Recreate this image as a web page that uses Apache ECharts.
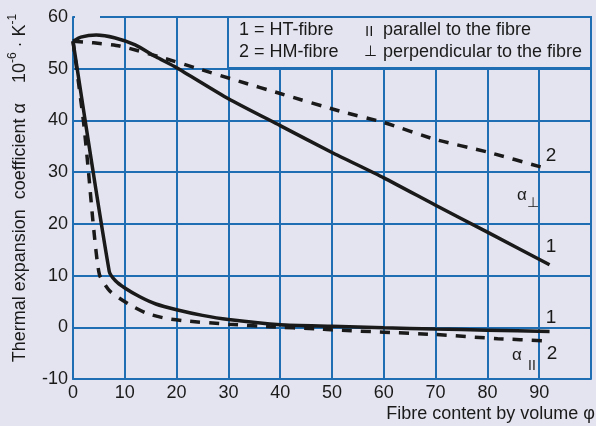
<!DOCTYPE html>
<html>
<head>
<meta charset="utf-8">
<script src="https://cdn.jsdelivr.net/npm/echarts@6/dist/echarts.min.js"></script>
<style>
html, body { margin: 0; padding: 0; background: #e4e4f0; }
#main { width: 596px; height: 426px; }
</style>
</head>
<body>
<div id="main"></div>
<script>
// curve values (fibre content %, alpha 10^-6/K)
var perpHT_x = [0, 1.5, 4.5, 8, 12, 16, 20, 30, 40, 50, 60, 70, 80, 92];
var perpHT_y = [55.3, 56.1, 56.5, 56.0, 54.6, 52.3, 50.2, 44.2, 39.0, 33.8, 28.9, 23.6, 18.4, 12.1];

var perpHM_x = [0, 4, 9, 17, 24.5, 32, 40, 51.5, 60, 70, 80, 91];
var perpHM_y = [55.3, 55.0, 54.4, 52.2, 49.9, 47.6, 45.2, 41.8, 39.6, 36.3, 33.9, 30.8];

var parHT_x = [0, 7.0, 8.2, 10, 12.9, 16, 20, 25, 30, 40, 50, 60, 70, 80, 92];
var parHT_y = [55.3, 10.8, 9.0, 7.6, 5.9, 4.5, 3.4, 2.3, 1.5, 0.5, 0.2, -0.1, -0.35, -0.55, -0.8];

var parHM_x = [0, 2, 3, 3.9, 5.1, 7.1, 10.7, 14.2, 18.1, 22, 30, 38, 47, 50, 70, 82, 91];
var parHM_y = [55.3, 40, 30, 20, 10.2, 7, 4.5, 2.7, 1.7, 1.2, 0.6, 0.1, -0.3, -0.5, -1.4, -2.2, -2.6];

var xTicks = [0, 10, 20, 30, 40, 50, 60, 70, 80, 90];

var blue = '#1f6eb4';
var ink = '#1a1a1a';
var bg = '#e4e4f0';
var font = 'Liberation Sans, Arial, sans-serif';

function pairs(xs, ys) {
    return xs.map(function(x, i) { return [x, ys[i]]; });
}

var myChart = echarts.init(document.getElementById('main'));

function curve(name, xs, ys, dashed) {
    return {
        name: name,
        type: 'line',
        data: pairs(xs, ys),
        showSymbol: false,
        smooth: 0.2,
        lineStyle: {
            color: ink,
            width: 3.5,
            type: dashed ? [10, 9] : 'solid'
        },
        z: 5
    };
}

function txt(x, y, text, size, align) {
    return {
        type: 'text',
        x: x,
        y: y,
        z: 120,
        style: {
            text: text,
            fill: ink,
            font: size + 'px ' + font,
            textAlign: align || 'left',
            textVerticalAlign: 'middle'
        }
    };
}

var option = {
    backgroundColor: bg,
    animation: false,
    grid: { left: 73, top: 17, right: 5, bottom: 47 },
    xAxis: {
        type: 'value',
        min: 0,
        max: 100,
        interval: 10,
        axisLine: { show: true, onZero: false, lineStyle: { color: blue, width: 2 } },
        axisTick: { show: false },
        axisLabel: {
            color: ink,
            fontSize: 18,
            fontFamily: font,
            margin: 5,
            formatter: function(v) { return xTicks.indexOf(v) >= 0 ? String(v) : ''; }
        },
        splitLine: { show: true, lineStyle: { color: blue, width: 2 } }
    },
    yAxis: {
        type: 'value',
        min: -10,
        max: 60,
        interval: 10,
        axisLine: { show: true, lineStyle: { color: blue, width: 2 } },
        axisTick: { show: false },
        axisLabel: { color: ink, fontSize: 18, fontFamily: font, margin: 5 },
        splitLine: { show: true, lineStyle: { color: blue, width: 2 } }
    },
    series: [
        curve('perp HT', perpHT_x, perpHT_y, false),
        curve('perp HM', perpHM_x, perpHM_y, true),
        curve('par HT', parHT_x, parHT_y, false),
        curve('par HM', parHM_x, parHM_y, true)
    ],
    graphic: [
        // gap in the top frame line
        { type: 'rect', z: 110, shape: { x: 75, y: 15, width: 25, height: 4 }, style: { fill: bg } },
        // key box
        {
            type: 'rect', z: 110,
            shape: { x: 228, y: 17, width: 363, height: 51 },
            style: { fill: bg, stroke: blue, lineWidth: 2 }
        },
        txt(239, 30, '1 = HT-fibre', 18),
        txt(239, 52, '2 = HM-fibre', 18),
        txt(365, 32, 'II', 15),
        txt(383, 30, 'parallel to the fibre', 18),
        txt(364, 52, '⊥', 15),
        txt(383, 52, 'perpendicular to the fibre', 18),
        // curve tags
        txt(551, 156, '2', 19, 'center'),
        txt(551, 247, '1', 19, 'center'),
        txt(551, 318, '1', 19, 'center'),
        txt(552, 354, '2', 19, 'center'),
        txt(517, 195, 'α', 17),
        txt(527, 203, '⊥', 14),
        txt(512, 355, 'α', 17),
        txt(528, 366, 'II', 14),
        // axis titles
        txt(595, 414, 'Fibre content by volume φ', 18, 'right'),
        {
            type: 'text',
            x: 18,
            y: 188,
            rotation: Math.PI / 2,
            z: 120,
            style: {
                x: 0,
                y: 0,
                text: '{a|Thermal expansion  coefficient α    10}{s|-6}{a| · K}{s|-1}',
                textAlign: 'center',
                textVerticalAlign: 'middle',
                fill: ink,
                rich: {
                    a: { fontSize: 18, fontFamily: font, color: ink, lineHeight: 22, verticalAlign: 'bottom' },
                    s: { fontSize: 12, fontFamily: font, color: ink, lineHeight: 22, verticalAlign: 'top' }
                }
            }
        }
    ]
};

myChart.setOption(option);
</script>
</body>
</html>
